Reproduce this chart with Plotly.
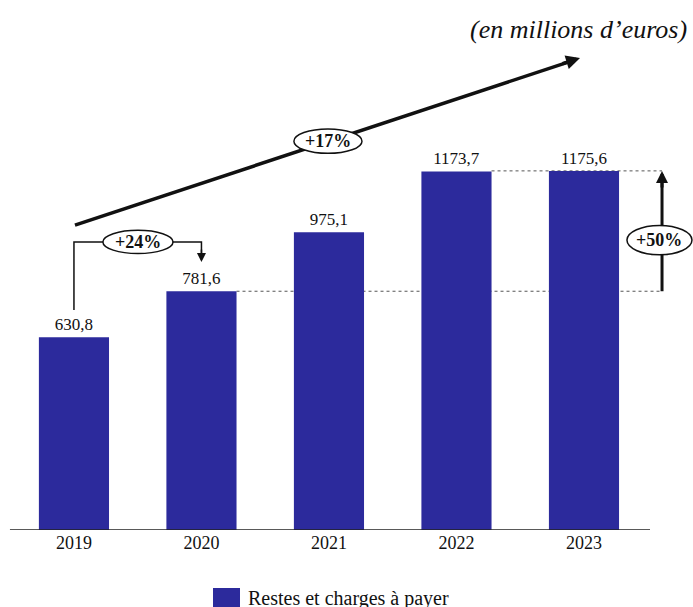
import plotly.graph_objects as go

# Restes et charges à payer, en millions d'euros
years = ["2019", "2020", "2021", "2022", "2023"]
values = [630.8, 781.6, 975.1, 1173.7, 1175.6]
series_name = "Restes et charges à payer"
growth_labels = ["+24%", "+17%", "+50%"]
unit_note = "(en millions d\u2019euros)"

BAR_COLOR = "#2c2a9c"
FONT = "Liberation Serif"
BAR_W = 0.55
INK = "#111"

labels = [f"{v:.1f}".replace(".", ",") for v in values]

fig = go.Figure()
fig.add_trace(go.Bar(
    x=list(range(len(years))), y=values, width=BAR_W,
    marker=dict(color=BAR_COLOR, line=dict(width=0)),
    text=labels, textposition="outside", cliponaxis=False,
    textfont=dict(family=FONT, size=17, color=INK),
    name=series_name, showlegend=False,
))

shapes = []
annotations = []

# baseline
shapes.append(dict(type="line", xref="x", yref="y", x0=-0.502, x1=4.518, y0=0, y1=0,
                   line=dict(color="#222", width=1.5), layer="above"))

# dashed reference levels: 2020 level from its bar, 2023 level from the 2022 bar
xr = 4.612
for start, i in ((1, 1), (3, 4)):
    shapes.append(dict(type="line", xref="x", yref="y", x0=start + BAR_W / 2,
                       x1=xr, y0=values[i], y1=values[i],
                       line=dict(color="#555", width=1, dash="dot"), layer="below"))

# +24% bracket 2019 -> 2020
yb = 943
shapes.append(dict(type="path", xref="x", yref="y",
                   path=f"M 0,720 L 0,{yb} L 1,{yb} L 1,890",
                   line=dict(color=INK, width=1.5), layer="above"))
annotations.append(dict(x=1, y=877, xref="x", yref="y", ax=0, ay=-14,
                        showarrow=True, arrowhead=2, arrowsize=1.2, arrowwidth=1.5,
                        arrowcolor=INK, text=""))

# +17% trend line with arrowhead
shapes.append(dict(type="line", xref="x", yref="y", x0=0.008, y0=998, x1=3.90, y1=1535,
                   line=dict(color=INK, width=3.5), layer="above"))
annotations.append(dict(x=3.969, y=1545, xref="x", yref="y", ax=-19, ay=6,
                        showarrow=True, arrowhead=2, arrowsize=0.8, arrowwidth=3.5,
                        arrowcolor=INK, text=""))

# +50% vertical arrow between the 2020 and 2023 levels
shapes.append(dict(type="line", xref="x", yref="y", x0=xr, x1=xr, y0=values[1], y1=values[4] - 30,
                   line=dict(color=INK, width=3), layer="above"))
annotations.append(dict(x=xr, y=values[4], xref="x", yref="y", ax=0, ay=18,
                        showarrow=True, arrowhead=2, arrowsize=0.8, arrowwidth=3,
                        arrowcolor=INK, text=""))

# ellipse badges
badges = [(0.502, 943, 0.275, 38, growth_labels[0]),
          (1.992, 1273, 0.267, 40, growth_labels[1]),
          (4.592, 949, 0.255, 48, growth_labels[2])]
for cx, cy, hw, hh, txt in badges:
    shapes.append(dict(type="circle", xref="x", yref="y", x0=cx - hw, x1=cx + hw,
                       y0=cy - hh, y1=cy + hh, fillcolor="white",
                       line=dict(color=INK, width=1.5), layer="above"))
    annotations.append(dict(x=cx, y=cy, xref="x", yref="y", text=f"<b>{txt}</b>",
                            showarrow=False, font=dict(family=FONT, size=18, color=INK)))

# unit note
annotations.append(dict(x=689 / 693, y=(530 - 30) / 530, xref="paper", yref="paper",
                        text=f"<i>{unit_note}</i>", showarrow=False,
                        xanchor="right", yanchor="middle",
                        font=dict(family=FONT, size=26, color=INK)))

# legend
shapes.append(dict(type="rect", xref="paper", yref="paper", x0=213 / 693, x1=240 / 693,
                   y0=-(607 - 530) / 530, y1=-(588 - 530) / 530,
                   fillcolor=BAR_COLOR, line=dict(width=0)))
annotations.append(dict(x=246 / 693, y=-(598 - 530) / 530, xref="paper", yref="paper",
                        text=series_name, showarrow=False, xanchor="left", yanchor="middle",
                        font=dict(family=FONT, size=20, color=INK)))

fig.update_layout(
    width=693, height=607,
    margin=dict(l=0, r=0, t=0, b=77),
    plot_bgcolor="white", paper_bgcolor="white",
    xaxis=dict(range=[-0.580, 4.855], tickmode="array", tickvals=list(range(len(years))),
               ticktext=years, showgrid=False, zeroline=False, showline=False, ticks="",
               tickfont=dict(family=FONT, size=18, color=INK)),
    yaxis=dict(range=[0, 1735], visible=False, showgrid=False, zeroline=False),
    shapes=shapes, annotations=annotations,
    showlegend=False,
)

fig.write_html("out.html")
